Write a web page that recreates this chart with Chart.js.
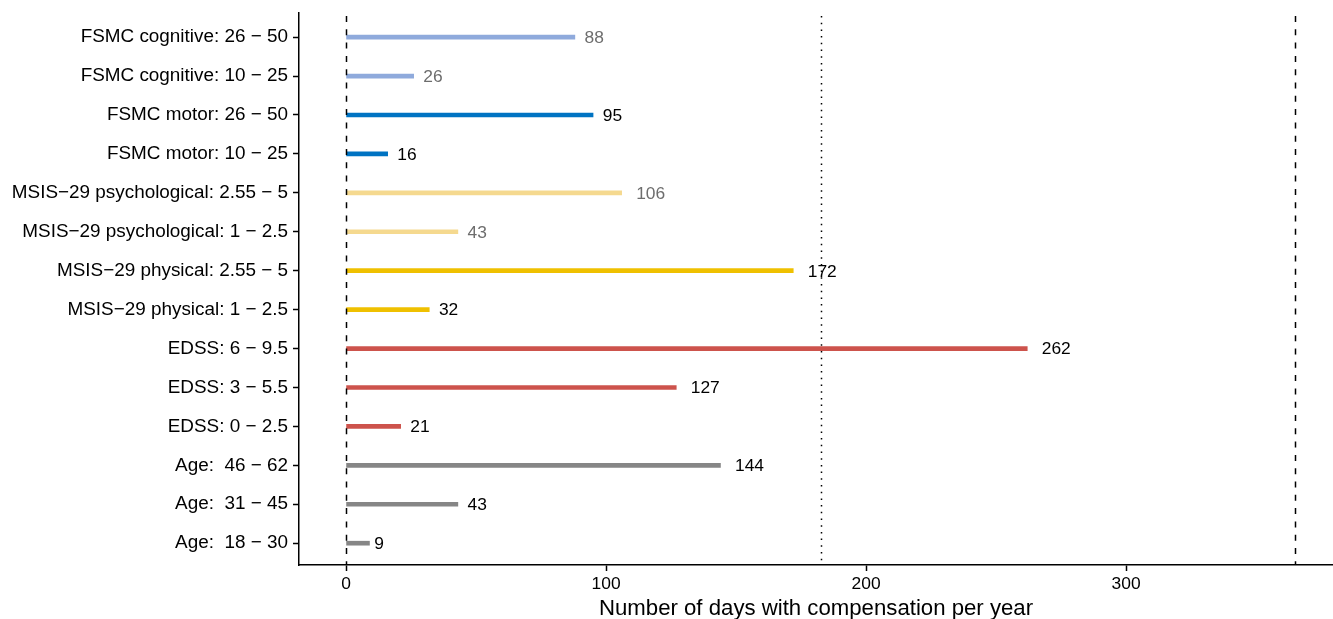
<!DOCTYPE html>
<html>
<head>
<meta charset="utf-8">
<script src="https://cdn.jsdelivr.net/npm/chart.js@4/dist/chart.umd.min.js"></script>
<style>
  html, body { margin: 0; padding: 0; background: #ffffff; }
  #wrap { width: 1333px; height: 619px; }
</style>
</head>
<body>
<div id="wrap"><canvas id="chart" width="1333" height="619"></canvas></div>
<script>
// Subgroups, listed top to bottom
const categories = [
  'FSMC cognitive: 26 \u2212 50',
  'FSMC cognitive: 10 \u2212 25',
  'FSMC motor: 26 \u2212 50',
  'FSMC motor: 10 \u2212 25',
  'MSIS\u221229 psychological: 2.55 \u2212 5',
  'MSIS\u221229 psychological: 1 \u2212 2.5',
  'MSIS\u221229 physical: 2.55 \u2212 5',
  'MSIS\u221229 physical: 1 \u2212 2.5',
  'EDSS: 6 \u2212 9.5',
  'EDSS: 3 \u2212 5.5',
  'EDSS: 0 \u2212 2.5',
  'Age:  46 \u2212 62',
  'Age:  31 \u2212 45',
  'Age:  18 \u2212 30'
];
// Mean number of days with compensation per year
const days = [88, 26, 95, 16, 106, 43, 172, 32, 262, 127, 21, 144, 43, 9];
// Measure each subgroup belongs to
const groups = ['fsmcCog', 'fsmcCog', 'fsmcMot', 'fsmcMot', 'msisPsy', 'msisPsy',
                'msisPhy', 'msisPhy', 'edss', 'edss', 'edss', 'age', 'age', 'age'];
// Reference lines: zero, half a year, a full year
const refLines = [0, 182.5, 365];
const refStyles = ['dashed', 'dotted', 'dashed'];
const xTicks = [0, 100, 200, 300];

const groupColor = {
  fsmcCog: '#8FAADC', fsmcMot: '#0073C2', msisPsy: '#F5D98F',
  msisPhy: '#EFC000', edss: '#CD534C', age: '#868686'
};
const groupLabelColor = {
  fsmcCog: '#6d6d6d', fsmcMot: '#000000', msisPsy: '#6d6d6d',
  msisPhy: '#000000', edss: '#000000', age: '#000000'
};

const FONT = "'Liberation Sans', Arial, Helvetica, sans-serif";

// Vertical reference lines across the panel
const refLinePlugin = {
  id: 'refLines',
  afterDatasetsDraw(chart) {
    const { ctx, chartArea, scales } = chart;
    ctx.save();
    ctx.strokeStyle = '#000000';
    ctx.lineWidth = 1.5;
    refLines.forEach((v, i) => {
      const px = Math.round(scales.x.getPixelForValue(v)) + 0.5;
      ctx.setLineDash(refStyles[i] === 'dotted' ? [1.5, 5.2] : [6, 7.3]);
      ctx.lineDashOffset = -3;
      ctx.beginPath();
      ctx.moveTo(px, chartArea.top);
      ctx.lineTo(px, chartArea.bottom);
      ctx.stroke();
    });
    ctx.restore();
  }
};

// Value printed just past the end of each bar
const valueLabelPlugin = {
  id: 'valueLabels',
  afterDatasetsDraw(chart) {
    const { ctx } = chart;
    const meta = chart.getDatasetMeta(0);
    ctx.save();
    ctx.font = '17.4px ' + FONT;
    ctx.textAlign = 'center';
    ctx.textBaseline = 'middle';
    meta.data.forEach((bar, i) => {
      const txt = String(days[i]);
      const w = ctx.measureText(txt).width;
      ctx.fillStyle = groupLabelColor[groups[i]];
      ctx.fillText(txt, bar.x + w, bar.y + 1);
    });
    ctx.restore();
  }
};

new Chart(document.getElementById('chart'), {
  type: 'bar',
  data: {
    datasets: [{
      data: days.map((v, i) => ({ x: v, y: i })),
      backgroundColor: groups.map(g => groupColor[g]),
      borderWidth: 0,
      barThickness: 4
    }]
  },
  options: {
    indexAxis: 'y',
    responsive: false,
    animation: false,
    layout: { padding: { top: 13, right: 0, left: 0, bottom: 0 } },
    plugins: { legend: { display: false }, tooltip: { enabled: false } },
    scales: {
      x: {
        type: 'linear',
        min: -18.1,
        max: 379.6,
        afterBuildTicks(scale) { scale.ticks = xTicks.map(v => ({ value: v })); },
        afterFit(scale) { scale.height = 54; },
        grid: {
          drawOnChartArea: false, drawTicks: true, tickLength: 6,
          tickWidth: 1.5, tickColor: '#000000'
        },
        border: { display: true, color: '#000000', width: 1.5 },
        ticks: {
          color: '#000000', padding: 3,
          font: { family: FONT, size: 17.4 },
          maxRotation: 0
        },
        title: {
          display: true,
          text: 'Number of days with compensation per year',
          color: '#000000',
          font: { family: FONT, size: 22.2 },
          padding: { top: 0, bottom: -3 }
        }
      },
      y: {
        type: 'linear',
        reverse: true,
        offset: false,
        min: -0.62,
        max: 13.56,
        afterBuildTicks(scale) { scale.ticks = categories.map((_, i) => ({ value: i })); },
        afterFit(scale) {
          scale.width = 299;
          scale.paddingTop = 0;
          scale.paddingBottom = 0;
        },
        grid: {
          offset: false,
          drawOnChartArea: false, drawTicks: true, tickLength: 6,
          tickWidth: 1.5, tickColor: '#000000'
        },
        border: { display: true, color: '#000000', width: 1.5 },
        ticks: {
          color: '#000000', padding: 5,
          font: { family: FONT, size: 18.9, lineHeight: 1.0 },
          autoSkip: false,
          callback: v => categories[v]
        }
      }
    }
  },
  plugins: [refLinePlugin, valueLabelPlugin]
});
</script>
</body>
</html>
